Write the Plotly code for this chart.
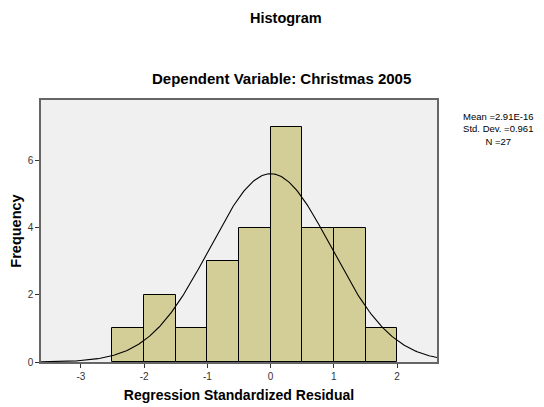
import numpy as np
import plotly.graph_objects as go

bin_left = [-2.5, -2.0, -1.5, -1.0, -0.5, 0.0, 0.5, 1.0, 1.5]
counts = [1, 2, 1, 3, 4, 7, 4, 4, 1]
bin_width = 0.5
mean_val = 2.91e-16
std_val = 0.961
n_val = 27
x_ticks = [-3, -2, -1, 0, 1, 2]
x_tick_labels = ["-3", "-2", "-1", "0", "1", "2"]
y_ticks = [0, 2, 4, 6]

centers = [b + bin_width / 2 for b in bin_left]

xs = np.linspace(-3.63, 2.63, 300)
ys = n_val * bin_width * np.exp(-0.5 * ((xs - mean_val) / std_val) ** 2) / (std_val * np.sqrt(2 * np.pi))

# page has an 8px body margin; compensate
OFF = 8
W, H = 544 - OFF, 407 - OFF
L, R, T, B = 41 - OFF, 107, 100 - OFF, 45

fig = go.Figure()
fig.add_trace(go.Bar(x=centers, y=counts, width=bin_width,
                     marker=dict(color="#D3CE97", line=dict(color="#000000", width=1)),
                     hoverinfo="skip"))
fig.add_trace(go.Scatter(x=xs, y=ys, mode="lines", line=dict(color="#000000", width=1.1),
                         hoverinfo="skip"))

font_family = "Liberation Sans, Arial, sans-serif"
fig.update_layout(
    width=W, height=H,
    margin=dict(l=L, r=R, t=T, b=B, autoexpand=False),
    paper_bgcolor="white", plot_bgcolor="#F0F0F0",
    showlegend=False, bargap=0,
    font=dict(family=font_family, color="#000000"),
    xaxis=dict(range=[-3.63, 2.63], tickvals=x_ticks, ticktext=x_tick_labels,
               ticks="outside", ticklen=4,
               tickcolor="#333333", tickfont=dict(size=10, color="#333333"),
               showgrid=False, zeroline=False, showline=True, linecolor="#666666",
               linewidth=1.5, mirror=True,
               title=dict(text="<b>Regression Standardized Residual</b>", font=dict(size=14),
                          standoff=9)),
    yaxis=dict(range=[0, 7.8], tickvals=y_ticks, ticks="outside", ticklen=4,
               tickcolor="#333333", tickfont=dict(size=10, color="#333333"),
               showgrid=False, zeroline=False, showline=True, linecolor="#666666",
               linewidth=1.5, mirror=True,
               title=dict(text="<b>Frequency</b>", font=dict(size=14.5), standoff=10)),
    annotations=[
        dict(text="<b>Histogram</b>", x=286, y=18, xref="paper", yref="paper",
             showarrow=False, font=dict(size=14.5), borderpad=0),
        dict(text="<b>Dependent Variable: Christmas 2005</b>", x=281, y=79,
             xref="paper", yref="paper", showarrow=False, font=dict(size=15)),
        dict(text="Mean =2.91E-16<br>Std. Dev. =0.961<br>N =27", x=498, y=129,
             xref="paper", yref="paper", showarrow=False, font=dict(size=9.5),
             align="center"),
    ],
)

# convert page pixel positions for annotations into paper coordinates
pw = W - L - R
ph = H - T - B
for a in fig.layout.annotations:
    px, py = a.x - OFF, a.y - OFF
    a.x = (px - L) / pw
    a.y = 1 - (py - T) / ph
    a.xanchor = "center"
    a.yanchor = "middle"

fig.write_html("out.html")
